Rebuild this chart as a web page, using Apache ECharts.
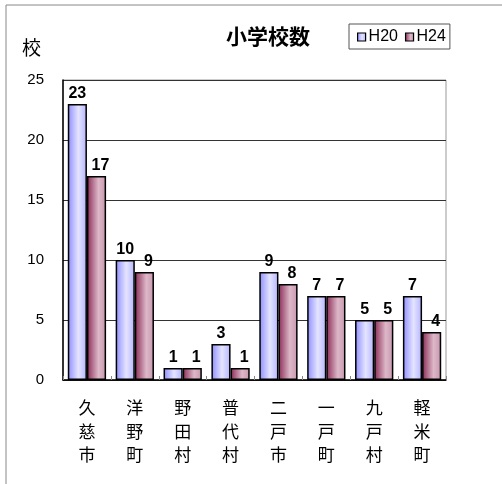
<!DOCTYPE html>
<html>
<head>
<meta charset="utf-8">
<script src="https://cdn.jsdelivr.net/npm/echarts@6/dist/echarts.min.js"></script>
<style>
  html, body { margin: 0; padding: 0; background: #fff; }
  #chart { width: 502px; height: 484px; }
</style>
</head>
<body>
<div id="chart"></div>
<script>
  // 市町村ごとの小学校数
  var categories = ["久慈市", "洋野町", "野田村", "普代村", "二戸市", "一戸町", "九戸村", "軽米町"];
  var h20 = [23, 10, 1, 3, 9, 7, 5, 7];
  var h24 = [17, 9, 1, 1, 8, 7, 5, 4];
  var yTicks = [0, 5, 10, 15, 20, 25];

  var jpFont = "'Noto Sans CJK JP', sans-serif";
  var numFont = "'Liberation Sans', Arial, sans-serif";

  function grad(stops) {
    return {
      type: "linear", x: 0, y: 0, x2: 1, y2: 0,
      colorStops: stops.map(function (s) { return { offset: s[0], color: s[1] }; }),
    };
  }

  var chart = echarts.init(document.getElementById("chart"));
  chart.setOption({
    backgroundColor: "#fff",
    animation: false,
    graphic: [
      {
        type: "rect",
        shape: { x: 6, y: 5, width: 520, height: 500 },
        style: { fill: "none", stroke: "#888", lineWidth: 1 },
      },
      {
        type: "text",
        left: 22,
        top: 38,
        style: { text: "校", font: "19px " + jpFont, fill: "#000" },
      },
    ],
    title: {
      text: "小学校数",
      left: 221,
      top: 21,
      textStyle: { fontFamily: jpFont, fontSize: 21, fontWeight: "bold", color: "#000" },
    },
    legend: {
      data: ["H20", "H24"],
      left: 349,
      top: 24,
      borderColor: "#555",
      borderWidth: 1,
      padding: [5, 4, 4, 8],
      itemWidth: 8,
      itemHeight: 8,
      itemGap: 7,
      icon: "rect",
      itemStyle: { borderColor: "#000", borderWidth: 1.2 },
      textStyle: { fontFamily: numFont, fontSize: 16, color: "#000", padding: [0, 0, 0, -2] },
    },
    grid: {
      left: 63,
      top: 80,
      right: 56,
      bottom: 104,
      show: true,
      borderColor: "#999",
      borderWidth: 1,
    },
    xAxis: {
      type: "category",
      data: categories,
      axisLine: { lineStyle: { color: "#000", width: 1.5 } },
      axisTick: { show: true, inside: true, length: 4, alignWithLabel: false, lineStyle: { color: "#888" } },
      axisLabel: {
        interval: 0,
        margin: 16,
        fontFamily: jpFont,
        fontSize: 17,
        lineHeight: 23.5,
        color: "#000",
        formatter: function (v) { return v.split("").join("\n"); },
      },
    },
    yAxis: {
      type: "value",
      min: 0,
      max: yTicks[yTicks.length - 1],
      interval: 5,
      axisLine: { show: true, lineStyle: { color: "#000", width: 1.5 } },
      axisTick: { show: false },
      splitLine: { lineStyle: { color: "#333", width: 1 } },
      axisLabel: {
        margin: 19,
        fontFamily: numFont,
        fontSize: 15,
        color: "#000",
      },
    },
    series: [
      {
        name: "H20",
        type: "bar",
        data: h20,
        barGap: "0%",
        barCategoryGap: "20%",
        itemStyle: {
          color: grad([[0, "#8c8cff"], [0.55, "#e4e4ff"], [1, "#b4b4ff"]]),
          borderColor: "#000",
          borderWidth: 1.5,
        },
        label: {
          show: true,
          position: "top",
          distance: 2,
          fontFamily: numFont,
          fontWeight: "bold",
          fontSize: 16,
          color: "#000",
        },
      },
      {
        name: "H24",
        type: "bar",
        data: h24,
        itemStyle: {
          color: grad([[0, "#8a2a55"], [0.6, "#dcb8c8"], [1, "#c896ae"]]),
          borderColor: "#000",
          borderWidth: 1.5,
        },
        label: {
          show: true,
          position: "top",
          distance: 2,
          offset: [4, 0],
          fontFamily: numFont,
          fontWeight: "bold",
          fontSize: 16,
          color: "#000",
        },
      },
    ],
  });
</script>
</body>
</html>
